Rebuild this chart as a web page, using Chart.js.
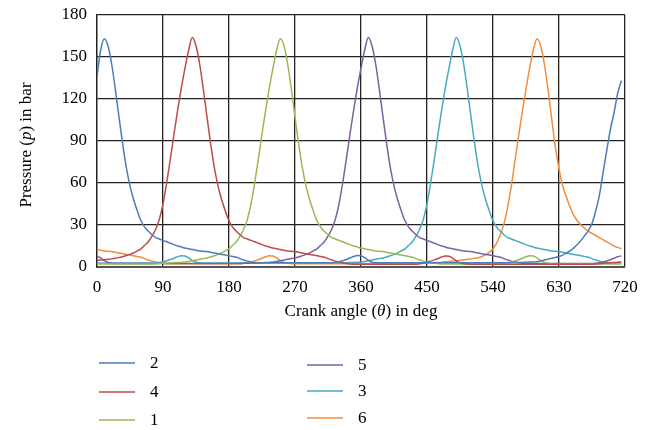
<!DOCTYPE html>
<html lang="en">
<head>
    <meta charset="UTF-8">
    <title>Cylinder pressure vs crank angle</title>
    <style>
        html, body {
            margin: 0;
            padding: 0;
            background: #ffffff;
        }
        .wrap {
            position: relative;
            width: 656px;
            height: 430px;
        }
    </style>
</head>
<body>
    <div class="wrap">
        <canvas id="myChart" width="656" height="430"></canvas>
    </div>

    <script src="https://cdn.jsdelivr.net/npm/chart.js"></script>
    <script>
        // crank angle (deg), one reading every 5 deg
        const angles = [
            0, 5, 10, 15, 20, 25, 30, 35, 40, 45, 50, 55,
            60, 65, 70, 75, 80, 85, 90, 95, 100, 105, 110, 115,
            120, 125, 130, 135, 140, 145, 150, 155, 160, 165, 170, 175,
            180, 185, 190, 195, 200, 205, 210, 215, 220, 225, 230, 235,
            240, 245, 250, 255, 260, 265, 270, 275, 280, 285, 290, 295,
            300, 305, 310, 315, 320, 325, 330, 335, 340, 345, 350, 355,
            360, 365, 370, 375, 380, 385, 390, 395, 400, 405, 410, 415,
            420, 425, 430, 435, 440, 445, 450, 455, 460, 465, 470, 475,
            480, 485, 490, 495, 500, 505, 510, 515, 520, 525, 530, 535,
            540, 545, 550, 555, 560, 565, 570, 575, 580, 585, 590, 595,
            600, 605, 610, 615, 620, 625, 630, 635, 640, 645, 650, 655,
            660, 665, 670, 675, 680, 685, 690, 695, 700, 705, 710, 715
        ];

        // pressure in bar for each cylinder
        const cyl2 = [
            136, 155, 163, 158, 145, 127, 107, 88, 71, 58, 48, 40,
            33, 28.5, 25.5, 23, 21, 20, 19, 18, 17, 16, 15, 14.3,
            13.5, 13, 12.5, 12, 11.5, 11.2, 11, 10.5, 10, 9.5, 9, 8.5,
            8, 7.5, 7, 6, 5, 4.2, 3.5, 3.1, 3, 3, 3, 3,
            3, 3, 3, 3, 3, 3, 3, 3, 3, 3, 3, 3,
            3, 3, 3, 3, 3.1, 3.3, 3.8, 4.5, 5.4, 6.4, 7.5, 8.2,
            8, 6.7, 4.7, 3.4, 3.1, 3, 3, 3, 3, 3, 3, 3,
            3, 3, 3, 3, 3, 3, 3, 3, 3, 3, 3, 3,
            3, 3, 3, 3, 3, 3, 3, 3, 3, 3, 3, 3,
            3, 3, 3, 3, 3.1, 3.1, 3.2, 3.2, 3.3, 3.4, 3.5, 3.6,
            3.8, 4.3, 5, 5.6, 6.2, 6.8, 7.5, 8.5, 10, 11.5, 13.5, 16,
            19, 22.5, 26, 31, 40, 51, 67, 83, 98, 110, 124, 133
        ];
        const cyl4 = [
            4.8, 5, 5.2, 5.5, 5.8, 6.2, 6.7, 7.3, 8.2, 9, 10, 11.5,
            13, 15.5, 18, 22, 27, 34, 45, 60, 77, 95, 112, 128,
            142, 155, 164, 158, 145, 127, 107, 88, 71, 58, 48, 40,
            33, 28.5, 25.5, 23, 21, 20, 19, 18, 17, 16, 15, 14.3,
            13.5, 13, 12.5, 12, 11.5, 11.2, 11, 10.5, 10, 9.5, 9, 8.5,
            8, 7.5, 7, 6, 5, 4.2, 3.5, 3, 2.5, 2.2, 2, 2,
            2, 2, 2, 2, 2, 2, 2, 2, 2, 2, 2, 2,
            2, 2, 2, 2, 2.3, 2.7, 3.4, 4.2, 5.1, 6.1, 7.2, 7.9,
            7.7, 6.4, 4.3, 3, 2.4, 2.1, 2, 2, 2, 2, 2, 2,
            2, 2, 2, 2, 2, 2, 2, 2, 2, 2, 2, 2,
            2, 2, 2, 2, 2, 2, 2, 2, 2, 2, 2, 2,
            2, 2, 2, 2, 2.2, 2.4, 2.6, 2.8, 3, 3.2, 3.4, 3.6
        ];
        const cyl1 = [
            2.2, 2.2, 2.2, 2.2, 2.2, 2.2, 2.2, 2.2, 2.2, 2.2, 2.2, 2.2,
            2.2, 2.2, 2.2, 2.2, 2.4, 2.5, 2.7, 2.8, 3, 3.1, 3.2, 3.3,
            3.5, 4, 4.5, 5, 5.5, 6, 6.5, 7.2, 8, 9, 10, 11.5,
            13, 15.5, 18, 22, 27, 34, 45, 60, 77, 95, 112, 128,
            142, 155, 163, 158, 145, 127, 107, 88, 71, 58, 48, 40,
            33, 28.5, 25.5, 23, 21, 20, 19, 18, 17, 16, 15, 14.3,
            13.5, 13, 12.5, 12, 11.5, 11.2, 11, 10.5, 10, 9.5, 9, 8.5,
            8, 7.5, 7, 6, 5, 4.2, 3.5, 3, 2.7, 2.4, 2.2, 2.2,
            2.2, 2.2, 2.2, 2.2, 2.2, 2.2, 2.2, 2.2, 2.2, 2.2, 2.2, 2.2,
            2.2, 2.2, 2.2, 2.7, 3, 3.6, 4.3, 5.2, 6.2, 7.3, 8, 7.8,
            6.5, 4.5, 3.2, 2.7, 2.3, 2.2, 2.2, 2.2, 2.2, 2.2, 2.2, 2.2,
            2.2, 2.2, 2.2, 2.2, 2.2, 2.2, 2.2, 2.2, 2.2, 2.2, 2.2, 2.2
        ];
        const cyl5 = [
            7.8, 6.5, 4.5, 3.2, 2.7, 2.5, 2.5, 2.5, 2.5, 2.5, 2.5, 2.5,
            2.5, 2.5, 2.5, 2.5, 2.5, 2.5, 2.5, 2.5, 2.5, 2.5, 2.5, 2.5,
            2.5, 2.5, 2.5, 2.5, 2.5, 2.5, 2.5, 2.5, 2.5, 2.5, 2.5, 2.5,
            2.5, 2.5, 2.5, 2.5, 2.6, 2.7, 2.8, 2.9, 3, 3.1, 3.2, 3.3,
            3.5, 4, 4.5, 5, 5.5, 6, 6.5, 7.2, 8, 9, 10, 11.5,
            13, 15.5, 18, 22, 27, 34, 45, 60, 77, 95, 112, 128,
            142, 155, 164, 158, 145, 127, 107, 88, 71, 58, 48, 40,
            33, 28.5, 25.5, 23, 21, 20, 19, 18, 17, 16, 15, 14.3,
            13.5, 13, 12.5, 12, 11.5, 11.2, 11, 10.5, 10, 9.5, 9, 8.5,
            8, 7.5, 7, 6, 5, 4.2, 3.5, 3, 2.7, 2.5, 2.5, 2.5,
            2.5, 2.5, 2.5, 2.5, 2.5, 2.5, 2.5, 2.5, 2.5, 2.5, 2.5, 2.5,
            2.5, 2.5, 2.5, 2.5, 2.7, 3, 3.6, 4.3, 5.2, 6.2, 7.3, 8
        ];
        const cyl3 = [
            2.8, 2.8, 2.8, 2.8, 2.8, 2.8, 2.8, 2.8, 2.8, 2.8, 2.8, 2.8,
            2.8, 2.8, 2.8, 2.8, 3, 3.2, 3.7, 4.4, 5.3, 6.3, 7.4, 8.1,
            7.8, 6.5, 4.6, 3.4, 2.9, 2.8, 2.8, 2.8, 2.8, 2.8, 2.8, 2.8,
            2.8, 2.8, 2.8, 2.8, 2.8, 2.8, 2.8, 2.8, 2.8, 2.8, 2.8, 2.8,
            2.8, 2.8, 2.8, 2.8, 2.8, 2.8, 2.8, 2.8, 2.8, 2.8, 2.8, 2.8,
            2.8, 2.8, 2.8, 2.8, 2.9, 3, 3, 3.1, 3.1, 3.2, 3.3, 3.4,
            3.5, 4, 4.5, 5, 5.5, 6, 6.5, 7.2, 8, 9, 10, 11.5,
            13, 15.5, 18, 22, 27, 34, 45, 60, 77, 95, 112, 128,
            142, 155, 164, 158, 145, 127, 107, 88, 71, 58, 48, 40,
            33, 28.5, 25.5, 23, 21, 20, 19, 18, 17, 16, 15, 14.3,
            13.5, 13, 12.5, 12, 11.5, 11.2, 11, 10.5, 10, 9.5, 9, 8.5,
            8, 7.5, 7, 6, 5, 4.2, 3.5, 3, 2.9, 2.8, 2.8, 2.8
        ];
        const cyl6 = [
            12.5, 12, 11.5, 11.2, 11, 10.5, 10, 9.5, 9, 8.5, 8, 7.5,
            7, 6, 5, 4.2, 3.5, 3, 2.7, 2.4, 2.4, 2.4, 2.4, 2.4,
            2.4, 2.4, 2.4, 2.4, 2.4, 2.4, 2.4, 2.4, 2.4, 2.4, 2.4, 2.4,
            2.4, 2.4, 2.4, 2.4, 2.7, 3, 3.6, 4.3, 5.2, 6.2, 7.3, 8,
            7.8, 6.5, 4.5, 3.2, 2.7, 2.4, 2.4, 2.4, 2.4, 2.4, 2.4, 2.4,
            2.4, 2.4, 2.4, 2.4, 2.4, 2.4, 2.4, 2.4, 2.4, 2.4, 2.4, 2.4,
            2.4, 2.4, 2.4, 2.4, 2.4, 2.4, 2.4, 2.4, 2.4, 2.4, 2.4, 2.4,
            2.4, 2.4, 2.5, 2.6, 2.7, 2.8, 2.9, 3, 3.1, 3.2, 3.4, 3.7,
            3.9, 4.2, 4.5, 4.8, 5.1, 5.4, 5.8, 6.2, 6.6, 7.5, 8.8, 10.5,
            13, 17, 23, 31, 43, 58, 76, 94, 111, 127, 142, 155,
            163, 158, 145, 127, 106, 86, 70, 58, 50, 43, 37, 33,
            30, 27.5, 25.5, 24, 22.5, 21, 19.5, 18, 16.5, 15, 14, 13
        ];

        const seriesNames = ['2', '4', '1', '5', '3', '6'];
        const seriesValues = [cyl2, cyl4, cyl1, cyl5, cyl3, cyl6];
        const seriesColors = ['#4a7ebb', '#be4b48', '#98b954', '#7d60a0', '#46aac5', '#f38d3c'];

        const xTicks = [0, 90, 180, 270, 360, 450, 540, 630, 720];
        const yTicks = [0, 30, 60, 90, 120, 150, 180];

        const serif = '"Liberation Serif", "DejaVu Serif", serif';

        const datasets = seriesNames.map(function (name, k) {
            return {
                label: name,
                data: angles.map(function (a, i) { return { x: a, y: seriesValues[k][i] }; }),
                borderColor: seriesColors[k],
                backgroundColor: seriesColors[k],
                borderWidth: 1.5,
                pointRadius: 0,
                cubicInterpolationMode: 'monotone',
                fill: false
            };
        });

        // titles with italic symbols + two-column legend under the plot
        const extras = {
            id: 'extras',
            afterDraw(chart) {
                const ctx = chart.ctx;
                const area = chart.chartArea;
                ctx.save();
                ctx.fillStyle = '#000';
                ctx.textBaseline = 'middle';

                function mixed(parts, cx, cy) {
                    let total = 0;
                    parts.forEach(function (p) {
                        ctx.font = (p[1] ? 'italic ' : '') + '17px ' + serif;
                        total += ctx.measureText(p[0]).width;
                    });
                    let x = cx - total / 2;
                    ctx.textAlign = 'left';
                    parts.forEach(function (p) {
                        ctx.font = (p[1] ? 'italic ' : '') + '17px ' + serif;
                        ctx.fillText(p[0], x, cy);
                        x += ctx.measureText(p[0]).width;
                    });
                }

                mixed([['Crank angle (', false], ['\u03B8', true], [') in deg', false]],
                      (area.left + area.right) / 2, 312);

                ctx.save();
                ctx.translate(27, (area.top + area.bottom) / 2 + 4);
                ctx.rotate(-Math.PI / 2);
                mixed([['Pressure (', false], ['p', true], [') in bar', false]], 0, 0);
                ctx.restore();

                const slots = [
                    [99, 363], [99, 392], [99, 420],
                    [307, 365], [307, 391], [307, 418]
                ];
                ctx.font = '17px ' + serif;
                ctx.textAlign = 'left';
                chart.data.datasets.forEach(function (ds, k) {
                    const s = slots[k];
                    ctx.strokeStyle = ds.borderColor;
                    ctx.lineWidth = 1.5;
                    ctx.beginPath();
                    ctx.moveTo(s[0], s[1]);
                    ctx.lineTo(s[0] + 36, s[1]);
                    ctx.stroke();
                    ctx.fillText(ds.label, s[0] + 51, s[1] + 1);
                });
                ctx.restore();
            }
        };

        new Chart(document.getElementById('myChart'), {
            type: 'line',
            data: { datasets: datasets },
            options: {
                responsive: false,
                animation: false,
                events: [],
                layout: { padding: { top: 15, right: 31, left: 0, bottom: 0 } },
                plugins: {
                    legend: { display: false },
                    tooltip: { enabled: false }
                },
                scales: {
                    x: {
                        type: 'linear',
                        min: 0,
                        max: 720,
                        afterBuildTicks: function (scale) {
                            scale.ticks = xTicks.map(function (v) { return { value: v }; });
                        },
                        afterFit: function (scale) {
                            scale.height = 163;
                            scale.paddingLeft = 0;
                            scale.paddingRight = 0;
                        },
                        grid: { color: '#222', lineWidth: 1.3, drawTicks: false },
                        border: { display: true, color: '#555', width: 2 },
                        ticks: {
                            color: '#000',
                            padding: 10,
                            maxRotation: 0,
                            font: { family: serif, size: 17 }
                        }
                    },
                    y: {
                        min: 0,
                        max: 180,
                        afterBuildTicks: function (scale) {
                            scale.ticks = yTicks.map(function (v) { return { value: v }; });
                        },
                        afterFit: function (scale) {
                            scale.width = 97;
                            scale.paddingTop = 0;
                            scale.paddingBottom = 0;
                        },
                        grid: { color: '#222', lineWidth: 1.3, drawTicks: false },
                        border: { display: true, color: '#222', width: 1.3 },
                        ticks: {
                            color: '#000',
                            padding: 10,
                            font: { family: serif, size: 17 }
                        }
                    }
                }
            },
            plugins: [extras]
        });
    </script>
</body>
</html>
